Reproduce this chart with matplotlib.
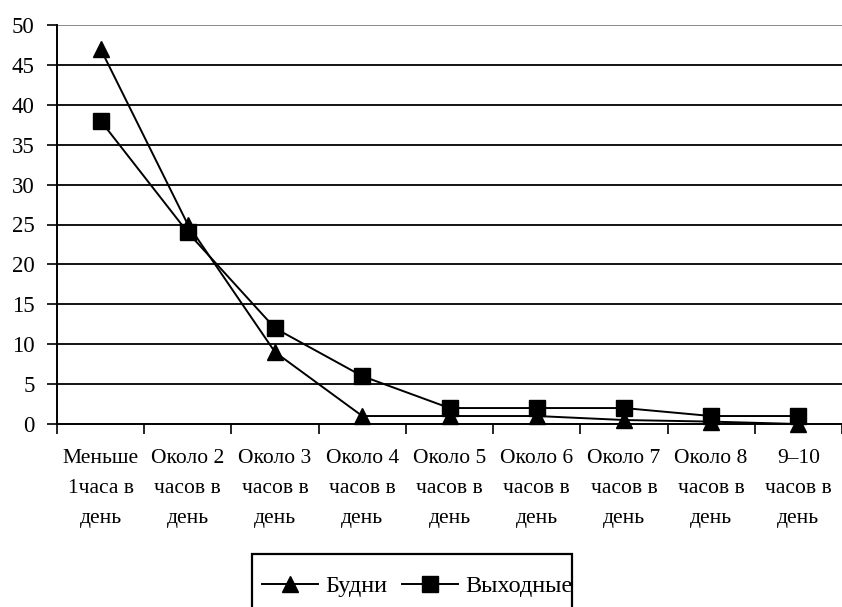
import matplotlib
matplotlib.use("Agg")
import matplotlib.pyplot as plt
from matplotlib.patches import Rectangle
from matplotlib.transforms import Bbox

categories = ["Меньше\n1часа в\nдень", "Около 2\nчасов в\nдень", "Около 3\nчасов в\nдень",
              "Около 4\nчасов в\nдень", "Около 5\nчасов в\nдень", "Около 6\nчасов в\nдень",
              "Около 7\nчасов в\nдень", "Около 8\nчасов в\nдень", "9–10\nчасов в\nдень"]
weekdays = [47, 25, 9, 1, 1, 1, 0.5, 0.3, 0]
weekends = [38, 24, 12, 6, 2, 2, 2, 1, 1]
yticks = [0, 5, 10, 15, 20, 25, 30, 35, 40, 45, 50]

plt.rcParams['font.family'] = ['Liberation Serif', 'DejaVu Serif']
FS = 15.5
W, H = 842, 607

fig = plt.figure(figsize=(8.42, 6.07), dpi=100)
ax = fig.add_axes([57/W, 1-424/H, 785/W, 399/H])

x = list(range(len(categories)))
l1, = ax.plot(x, weekdays, color='black', lw=1.4, marker='^', markersize=12, label='Будни', clip_on=False, zorder=3)
l2, = ax.plot(x, weekends, color='black', lw=1.4, marker='s', markersize=11.5, label='Выходные', clip_on=False, zorder=3)

ax.set_xlim(-0.5, 8.5)
ax.set_ylim(0, 50)
ax.set_yticks(yticks)
ax.set_yticklabels([str(v) for v in yticks], fontsize=16.5)
for v in yticks[1:]:
    ax.axhline(v, color='black' if v < 50 else '#808080', lw=1.3, zorder=1)

ax.set_xticks([i + 0.5 for i in range(-1, 9)], minor=False)
ax.set_xticklabels([])
ax.set_xticks(x, minor=True)
ax.set_xticklabels(categories, minor=True, fontsize=FS, linespacing=1.8)
ax.tick_params(axis='x', which='minor', length=0, pad=18)
ax.tick_params(axis='x', which='major', length=7, width=1.2, direction='out')
ax.tick_params(axis='y', length=7, width=1.2, direction='out', pad=9)

for s in ['top', 'right']:
    ax.spines[s].set_visible(False)
for s in ['left', 'bottom']:
    ax.spines[s].set_linewidth(1.4)
    ax.spines[s].set_color('black')

leg = fig.legend(handles=[l1, l2], loc='center left', bbox_to_anchor=(262/W, 1-586/H),
                 ncol=2, fontsize=17.5, frameon=False,
                 handlelength=2.3, columnspacing=0.6, handletextpad=0.3, borderpad=0.0,
                 borderaxespad=0.0)
clip = Bbox.from_extents(0, 0, 571, H)
for t in leg.get_texts():
    t.set_clip_box(clip)
    t.set_clip_on(True)

fig.patches.append(Rectangle((252/W, -0.05), (572-252)/W, (0.05 + 1-554/H),
                             transform=fig.transFigure, fill=False, edgecolor='black', lw=1.6))

fig.savefig("out.png", dpi=100)
